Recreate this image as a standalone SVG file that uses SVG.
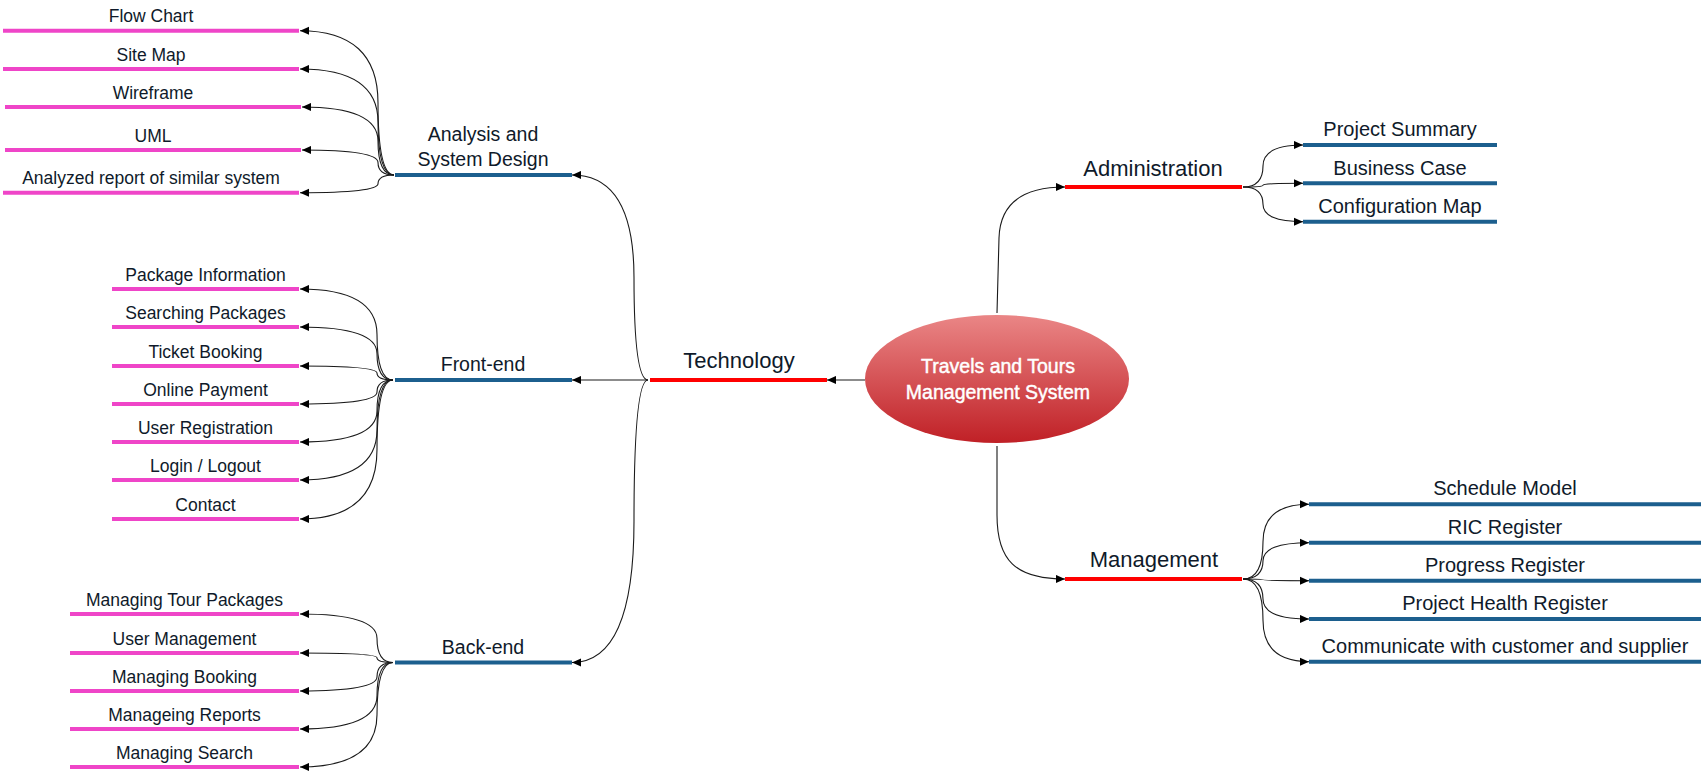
<svg xmlns="http://www.w3.org/2000/svg" width="1706" height="774" viewBox="0 0 1706 774">
<defs>
<linearGradient id="rootGrad" x1="0" y1="0" x2="0" y2="1">
<stop offset="0" stop-color="#ea8686"/>
<stop offset="1" stop-color="#c02026"/>
</linearGradient>
<marker id="arr" viewBox="0 0 10 10" refX="10" refY="5" markerWidth="10" markerHeight="9" markerUnits="userSpaceOnUse" orient="auto">
<path d="M0,0.5 L10,5 L0,9.5 z" fill="#000"/>
</marker>
<style>
.edge{fill:none;stroke:#1a1a1a;stroke-width:1.1;marker-end:url(#arr)}
.red{stroke:#ff0000;stroke-width:4}
.blue{stroke:#1c5f8e;stroke-width:4}
.pink{stroke:#ef45c8;stroke-width:4}
text{font-family:"Liberation Sans",Arial,sans-serif;fill:#0f1a2a;text-anchor:middle}
.t1{font-size:22px}
.t2{font-size:19.5px}
.t3{font-size:17.5px}
.t4{font-size:20px}
.root{font-size:19.5px;fill:#ffffff;stroke:#ffffff;stroke-width:0.45}
</style>
</defs>
<rect width="1706" height="774" fill="#ffffff"/>

<g id="connectors">
<path class="edge" d="M865,380 L827,380"/>
<path class="edge" d="M648,380 Q634,380 634,277.5 T572,175"/>
<path class="edge" d="M648,380 L572,380"/>
<path class="edge" d="M648,380 Q634,380 634,521.25 T572,662.5"/>
<path class="edge" d="M997,313 L999,238 C1000,202 1025,187 1065,187"/>
<path class="edge" d="M997,446 L997,515 C997,560 1015,579 1065,579"/>
<path class="edge" d="M394,175 Q378,175 378,102.85 T300,30.7"/>
<path class="edge" d="M394,175 Q378,175 378,122 T300,69"/>
<path class="edge" d="M394,175 Q378,175 378,141 T302,107"/>
<path class="edge" d="M394,175 Q378,175 378,162.5 T302,150"/>
<path class="edge" d="M394,175 Q378,175 378,183.85 T300,192.7"/>
<path class="edge" d="M393,380 Q377,380 377,334.5 T300,289"/>
<path class="edge" d="M393,380 Q377,380 377,353.5 T300,327"/>
<path class="edge" d="M393,380 Q377,380 377,373 T300,366"/>
<path class="edge" d="M393,380 Q377,380 377,392 T300,404"/>
<path class="edge" d="M393,380 Q377,380 377,411 T300,442"/>
<path class="edge" d="M393,380 Q377,380 377,430 T300,480"/>
<path class="edge" d="M393,380 Q377,380 377,449.5 T300,519"/>
<path class="edge" d="M393,662.5 Q377,662.5 377,638.25 T300,614"/>
<path class="edge" d="M393,662.5 Q377,662.5 377,657.75 T300,653"/>
<path class="edge" d="M393,662.5 Q377,662.5 377,676.75 T300,691"/>
<path class="edge" d="M393,662.5 Q377,662.5 377,695.75 T300,729"/>
<path class="edge" d="M393,662.5 Q377,662.5 377,714.75 T300,767"/>
<path class="edge" d="M1243,187 Q1263,187 1263,166 T1303,145"/>
<path class="edge" d="M1243,187 Q1263,187 1263,185.15 T1303,183.3"/>
<path class="edge" d="M1243,187 Q1263,187 1263,204.35 T1303,221.7"/>
<path class="edge" d="M1243,579 Q1263,579 1263,541.65 T1309,504.3"/>
<path class="edge" d="M1243,579 Q1263,579 1263,560.85 T1309,542.7"/>
<path class="edge" d="M1243,579 Q1263,579 1263,579.85 T1309,580.7"/>
<path class="edge" d="M1243,579 Q1263,579 1263,599 T1309,619"/>
<path class="edge" d="M1243,579 Q1263,579 1263,620.35 T1309,661.7"/>
</g>

<g id="root">
<ellipse cx="997" cy="379" rx="132" ry="64" fill="url(#rootGrad)"/>
<text class="root" x="998" y="373">Travels and Tours</text>
<text class="root" x="998" y="399">Management System</text>
</g>

<g id="technology">
<line class="red" x1="650" y1="380" x2="827" y2="380"/>
<text class="t1" x="739" y="368">Technology</text>
</g>
<g id="administration">
<line class="red" x1="1065" y1="187" x2="1242" y2="187"/>
<text class="t1" x="1153" y="176">Administration</text>
</g>
<g id="management">
<line class="red" x1="1065" y1="579" x2="1242" y2="579"/>
<text class="t1" x="1154" y="567">Management</text>
</g>

<g id="analysis">
<line class="blue" x1="395" y1="175" x2="572" y2="175"/>
<text class="t2" x="483" y="141">Analysis and</text>
<text class="t2" x="483" y="166">System Design</text>
</g>
<g id="frontend">
<line class="blue" x1="395" y1="380" x2="572" y2="380"/>
<text class="t2" x="483" y="371">Front-end</text>
</g>
<g id="backend">
<line class="blue" x1="395" y1="662.5" x2="572" y2="662.5"/>
<text class="t2" x="483" y="654">Back-end</text>
</g>

<g id="flowchart"><line class="pink" x1="3" y1="30.7" x2="299" y2="30.7"/><text class="t3" x="151" y="22">Flow Chart</text></g>
<g id="sitemap"><line class="pink" x1="3" y1="69" x2="299" y2="69"/><text class="t3" x="151" y="60.5">Site Map</text></g>
<g id="wireframe"><line class="pink" x1="5" y1="107" x2="301" y2="107"/><text class="t3" x="153" y="98.5">Wireframe</text></g>
<g id="uml"><line class="pink" x1="5" y1="150" x2="301" y2="150"/><text class="t3" x="153" y="141.5">UML</text></g>
<g id="analyzed"><line class="pink" x1="3" y1="192.7" x2="299" y2="192.7"/><text class="t3" x="151" y="184">Analyzed report of similar system</text></g>

<g id="packageinfo"><line class="pink" x1="112" y1="289" x2="299" y2="289"/><text class="t3" x="205.5" y="280.5">Package Information</text></g>
<g id="searching"><line class="pink" x1="112" y1="327" x2="299" y2="327"/><text class="t3" x="205.5" y="318.5">Searching Packages</text></g>
<g id="ticket"><line class="pink" x1="112" y1="366" x2="299" y2="366"/><text class="t3" x="205.5" y="357.5">Ticket Booking</text></g>
<g id="payment"><line class="pink" x1="112" y1="404" x2="299" y2="404"/><text class="t3" x="205.5" y="395.5">Online Payment</text></g>
<g id="registration"><line class="pink" x1="112" y1="442" x2="299" y2="442"/><text class="t3" x="205.5" y="433.5">User Registration</text></g>
<g id="login"><line class="pink" x1="112" y1="480" x2="299" y2="480"/><text class="t3" x="205.5" y="471.5">Login / Logout</text></g>
<g id="contact"><line class="pink" x1="112" y1="519" x2="299" y2="519"/><text class="t3" x="205.5" y="510.5">Contact</text></g>

<g id="tourpackages"><line class="pink" x1="70" y1="614" x2="299" y2="614"/><text class="t3" x="184.5" y="605.5">Managing Tour Packages</text></g>
<g id="usermgmt"><line class="pink" x1="70" y1="653" x2="299" y2="653"/><text class="t3" x="184.5" y="644.5">User Management</text></g>
<g id="booking"><line class="pink" x1="70" y1="691" x2="299" y2="691"/><text class="t3" x="184.5" y="682.5">Managing Booking</text></g>
<g id="reports"><line class="pink" x1="70" y1="729" x2="299" y2="729"/><text class="t3" x="184.5" y="720.5">Manageing Reports</text></g>
<g id="search"><line class="pink" x1="70" y1="767" x2="299" y2="767"/><text class="t3" x="184.5" y="758.5">Managing Search</text></g>

<g id="summary"><line class="blue" x1="1303" y1="145" x2="1497" y2="145"/><text class="t4" x="1400" y="136">Project Summary</text></g>
<g id="business"><line class="blue" x1="1303" y1="183.3" x2="1497" y2="183.3"/><text class="t4" x="1400" y="174.5">Business Case</text></g>
<g id="config"><line class="blue" x1="1303" y1="221.7" x2="1497" y2="221.7"/><text class="t4" x="1400" y="212.5">Configuration Map</text></g>

<g id="schedule"><line class="blue" x1="1309" y1="504.3" x2="1701" y2="504.3"/><text class="t4" x="1505" y="495">Schedule Model</text></g>
<g id="ric"><line class="blue" x1="1309" y1="542.7" x2="1701" y2="542.7"/><text class="t4" x="1505" y="534">RIC Register</text></g>
<g id="progress"><line class="blue" x1="1309" y1="580.7" x2="1701" y2="580.7"/><text class="t4" x="1505" y="572">Progress Register</text></g>
<g id="health"><line class="blue" x1="1309" y1="619" x2="1701" y2="619"/><text class="t4" x="1505" y="610">Project Health Register</text></g>
<g id="communicate"><line class="blue" x1="1309" y1="661.7" x2="1701" y2="661.7"/><text class="t4" x="1505" y="653">Communicate with customer and supplier</text></g>
</svg>
